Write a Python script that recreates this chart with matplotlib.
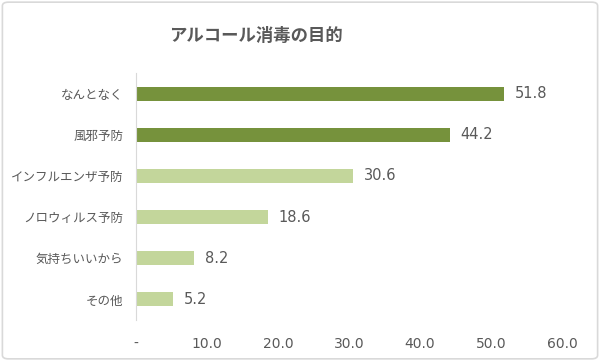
import matplotlib.pyplot as plt
from matplotlib.patches import FancyBboxPatch

plt.rcParams['font.family'] = ['Noto Sans CJK JP', 'DejaVu Sans']

labels = ['なんとなく', '風邪予防', 'インフルエンザ予防', 'ノロウィルス予防', '気持ちいいから', 'その他']
values = [51.8, 44.2, 30.6, 18.6, 8.2, 5.2]
colors = ['#76923C', '#76923C', '#C3D69B', '#C3D69B', '#C3D69B', '#C3D69B']
ticks = [0, 10, 20, 30, 40, 50, 60]
tick_labels = ['-', '10.0', '20.0', '30.0', '40.0', '50.0', '60.0']

txt = '#595959'
fig = plt.figure(figsize=(6, 3.61), dpi=100)
ax = fig.add_axes([0.2267, 0.1136, 0.71, 0.6842])

y = list(range(len(labels)))
ax.barh(y, values, height=0.34, color=colors)
for yi, v in zip(y, values):
    ax.text(v + 1.5, yi, f'{v:.1f}', va='center', ha='left', fontsize=10.5,
            color=txt, family='DejaVu Sans')

ax.set_ylim(len(labels) - 0.5, -0.5)
ax.set_xlim(0, 60)
ax.set_yticks(y)
ax.set_yticklabels(labels, fontsize=9, color=txt)
ax.set_xticks(ticks)
ax.set_xticklabels(tick_labels, fontsize=10, color=txt, family='DejaVu Sans')
ax.tick_params(length=0, pad=9)
ax.tick_params(axis='x', pad=12)
for s in ['top', 'right', 'bottom']:
    ax.spines[s].set_visible(False)
ax.spines['left'].set_color('#D9D9D9')

fig.text(0.427, 0.9, 'アルコール消毒の目的', ha='center', va='center',
         fontsize=12.5, fontweight='bold', color=txt)

border = FancyBboxPatch((0.004, 0.006), 0.992, 0.988, boxstyle='round,pad=0,rounding_size=0.01',
                        transform=fig.transFigure, fill=False, edgecolor='#D9D9D9', linewidth=1.2)
fig.patches.append(border)

fig.savefig('out.png', dpi=100)
